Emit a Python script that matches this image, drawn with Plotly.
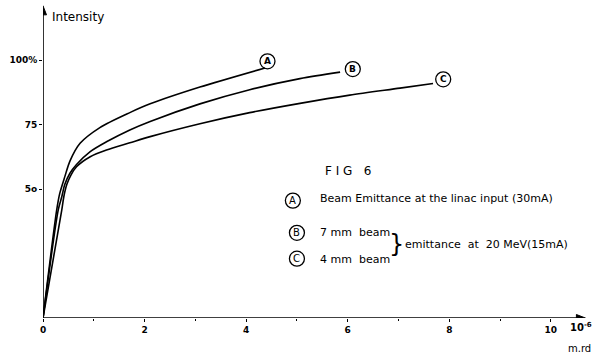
import plotly.graph_objects as go

# Data (emittance in 10^-6 m.rad, intensity in %)
a_x = [0, 0.27, 0.33, 0.43, 0.53, 0.73, 1.12, 1.71, 2.11, 3.09, 4.37]
a_y = [0, 41.9, 48.3, 54.8, 60.8, 67.7, 73.8, 79.6, 83.0, 89.5, 96.9]
b_x = [0, 0.30, 0.37, 0.43, 0.53, 0.66, 0.93, 1.25, 1.71, 2.11, 3.09, 4.07, 5.06, 5.85]
b_y = [0, 41.9, 47.0, 51.8, 56.1, 59.5, 64.5, 68.3, 72.9, 76.2, 83.0, 88.5, 92.8, 95.3]
c_x = [0, 0.37, 0.41, 0.47, 0.55, 0.66, 0.93, 1.25, 1.71, 2.11, 3.09, 4.07, 5.06, 6.04, 7.03, 7.68]
c_y = [0, 41.9, 47.0, 51.8, 55.4, 58.6, 62.5, 65.1, 67.9, 70.3, 75.3, 79.6, 83.2, 86.4, 89.1, 90.9]
series_names = ["A", "B", "C"]

x_ticks = [0, 2, 4, 6, 8, 10]
x_tick_labels = ["0", "2", "4", "6", "8", "10"]
x_minor_ticks = [1, 3, 5, 7, 9]
y_ticks = [50, 75, 100]
y_tick_labels = ["5o", "75", "100%"]
X_AXIS_END = 10.68
Y_AXIS_END = 121.0

FONT = "DejaVu Sans"
fig = go.Figure()
shapes = []
annotations = []

label_offsets = {"A": (0.05, 2.6), "B": (0.25, 1.2), "C": (0.2, 1.6)}
for name, xs, ys in zip(series_names, [a_x, b_x, c_x], [a_y, b_y, c_y]):
    fig.add_trace(go.Scatter(x=xs, y=ys, mode="lines",
                             line=dict(color="black", width=1.6, shape="spline", smoothing=0.8),
                             showlegend=False, hoverinfo="skip"))
    dx, dy = label_offsets[name]
    lx, ly = xs[-1] + dx, ys[-1] + dy
    shapes.append(dict(type="circle", xref="x", yref="y", xsizemode="pixel", ysizemode="pixel",
                       xanchor=lx, yanchor=ly, x0=-7.5, x1=7.5, y0=-7.5, y1=7.5,
                       line=dict(color="black", width=1.3)))
    annotations.append(dict(x=lx, y=ly, xref="x", yref="y", text="<b>" + name + "</b>", showarrow=False,
                            font=dict(family=FONT, size=9, color="black")))

# Axes drawn as lines with arrowheads
shapes.append(dict(type="line", xref="x", yref="y", x0=0, y0=0, x1=X_AXIS_END - 0.1, y1=0,
                   line=dict(color="black", width=1.6)))
shapes.append(dict(type="line", xref="x", yref="y", x0=0, y0=0, x1=0, y1=Y_AXIS_END - 2,
                   line=dict(color="black", width=1.6)))
shapes.append(dict(type="path", xref="x", yref="y", xsizemode="pixel", ysizemode="pixel",
                   xanchor=X_AXIS_END, yanchor=0, path="M-9,-3.5 L0,0 L-9,3.5 Z",
                   fillcolor="black", line=dict(color="black", width=1)))
shapes.append(dict(type="path", xref="x", yref="y", xsizemode="pixel", ysizemode="pixel",
                   xanchor=0, yanchor=Y_AXIS_END, path="M-3.5,-9 L0,0 L3.5,-9 Z",
                   fillcolor="black", line=dict(color="black", width=1)))

# Axis titles
annotations.append(dict(x=0.013, y=0.985, xref="paper", yref="paper", xanchor="left", yanchor="top",
                        text="Intensity",
                        showarrow=False, font=dict(family=FONT, size=12, color="black")))
annotations.append(dict(x=0.98, y=-0.03, xref="paper", yref="paper", xanchor="center",
                        yanchor="middle", text="<b>10<sup>-6</sup></b>",
                        showarrow=False, font=dict(family=FONT, size=10, color="black")))
annotations.append(dict(x=0.978, y=-0.098, xref="paper", yref="paper", xanchor="center",
                        yanchor="middle", text="m.rd",
                        showarrow=False, font=dict(family=FONT, size=10, color="black")))

# Figure text / legend
annotations.append(dict(x=6.0, y=57, xref="x", yref="y", text="F I G   6", showarrow=False,
                        font=dict(family=FONT, size=12, color="black")))
legend_rows = [
    ("A", 4.92, 45.5, "Beam Emittance at the linac input (30mA)", 46.5),
    ("B", 5.0, 33.0, "7 mm  beam", 33.0),
    ("C", 5.0, 23.0, "4 mm  beam", 22.5),
]
for letter, lx, ly, txt, ty in legend_rows:
    shapes.append(dict(type="circle", xref="x", yref="y", xsizemode="pixel", ysizemode="pixel",
                       xanchor=lx, yanchor=ly, x0=-7.5, x1=7.5, y0=-7.5, y1=7.5,
                       line=dict(color="black", width=1.3)))
    annotations.append(dict(x=lx, y=ly, xref="x", yref="y", text=letter, showarrow=False,
                            font=dict(family=FONT, size=10, color="black")))
    annotations.append(dict(x=5.42, y=ty, xref="x", yref="y", xanchor="left", text=txt,
                            showarrow=False, font=dict(family=FONT, size=11, color="black")))
annotations.append(dict(x=6.78, y=28.5, xref="x", yref="y", xanchor="left", text="}",
                        showarrow=False, font=dict(family=FONT, size=24, color="black")))
annotations.append(dict(x=7.08, y=28.5, xref="x", yref="y", xanchor="left",
                        text="emittance  at  20 MeV(15mA)",
                        showarrow=False, font=dict(family=FONT, size=11, color="black")))

fig.update_layout(
    width=602, height=359,
    margin=dict(l=43, r=10, t=3, b=41),
    paper_bgcolor="white", plot_bgcolor="white",
    shapes=shapes, annotations=annotations,
    xaxis=dict(range=[0, 10.81], showgrid=False, zeroline=False, showline=False,
               tickmode="array", tickvals=x_ticks, ticktext=["<b>%s</b>" % t for t in x_tick_labels],
               ticks="outside", ticklen=3, tickcolor="black",
               minor=dict(tickmode="array", tickvals=x_minor_ticks, ticks="outside", ticklen=2,
                          tickcolor="black"),
               tickfont=dict(family=FONT, size=9, color="black")),
    yaxis=dict(range=[0, 122.1], showgrid=False, zeroline=False, showline=False,
               tickmode="array", tickvals=y_ticks, ticktext=["<b>%s</b>" % t for t in y_tick_labels],
               ticks="outside", ticklen=3, tickcolor="black",
               tickfont=dict(family=FONT, size=9, color="black")),
)
fig.write_html("out.html")
